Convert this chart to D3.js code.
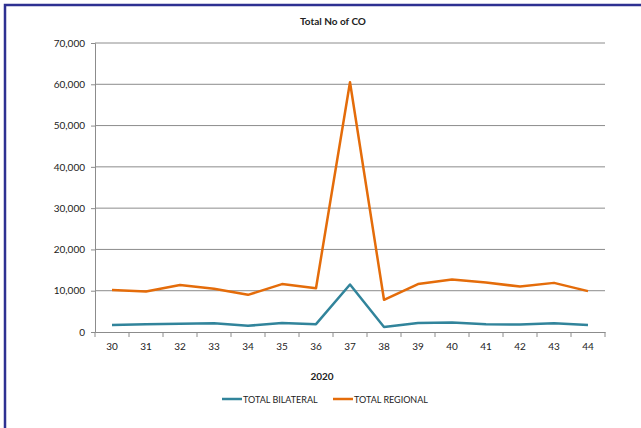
<!DOCTYPE html>
<html>
<head>
<meta charset="utf-8">
<script src="https://cdn.jsdelivr.net/npm/d3@7"></script>
<style>
  body { margin:0; background:#fff; }
  svg text { font-family: Lato, "Open Sans", sans-serif; fill:#222; }
</style>
</head>
<body>
<svg id="chart" width="641" height="428"></svg>
<script>
// weeks of 2020
const weeks = ['30','31','32','33','34','35','36','37','38','39','40','41','42','43','44'];
const bilateral = [1700,1900,2000,2100,1500,2200,1900,11500,1200,2200,2300,1900,1800,2100,1700];
const regional  = [10200,9800,11400,10500,9000,11600,10600,60500,7800,11600,12700,12000,11000,11900,9900];
const yTicks = [0,10000,20000,30000,40000,50000,60000,70000];

const series = [
    {name:'TOTAL BILATERAL', values:bilateral, color:'#31849b'},
    {name:'TOTAL REGIONAL',  values:regional,  color:'#e46c0a'}
];

const svg = d3.select('#chart');
const m = {left:95, right:36, top:43, bottom:96};
const W = 641, H = 428;

// frame
svg.append('path')
    .attr('d', `M5,${H} V5 H${W}`)
    .attr('fill','none').attr('stroke','#2e3192').attr('stroke-width',2.5);

const x = d3.scaleBand().domain(weeks).range([m.left, W-m.right]);
const y = d3.scaleLinear().domain([0,70000]).range([H-m.bottom, m.top]);

// gridlines
svg.append('g').selectAll('line')
    .data(yTicks.slice(1))
    .join('line')
    .attr('x1', m.left).attr('x2', W-m.right)
    .attr('y1', d=>y(d)).attr('y2', d=>y(d))
    .attr('stroke','#8c8c8c').attr('stroke-width',1);

// y axis
const yAxis = svg.append('g')
    .attr('transform', `translate(${m.left},0)`)
    .call(d3.axisLeft(y).tickValues(yTicks).tickFormat(d3.format(',')).tickSizeOuter(0).tickSize(4).tickPadding(6));
yAxis.selectAll('text').style('font-size','10px');

// x axis
const xAxis = svg.append('g')
    .attr('transform', `translate(0,${y(0)})`)
    .call(d3.axisBottom(x).tickSize(0).tickPadding(11));
xAxis.selectAll('text').style('font-size','10px');
// tick marks between categories
xAxis.selectAll('line.sep')
    .data(weeks.map((d,i)=>x.range()[0]+i*x.step()).concat([x.range()[1]]))
    .join('line').attr('class','sep')
    .attr('x1',d=>d).attr('x2',d=>d).attr('y1',0).attr('y2',5);
svg.selectAll('.domain, .tick line, line.sep').attr('stroke','#8c8c8c');

// lines
const line = d3.line()
    .x((d,i)=>x(weeks[i]) + x.bandwidth()/2)
    .y(d=>y(d));
svg.append('g').selectAll('path')
    .data(series)
    .join('path')
    .attr('d', d=>line(d.values))
    .attr('fill','none')
    .attr('stroke', d=>d.color)
    .attr('stroke-width',2.5)
    .attr('stroke-linejoin','round');

// title and axis title
svg.append('text').attr('x',333).attr('y',25).attr('text-anchor','middle')
    .style('font-size','10px').style('font-weight','bold').text('Total No of CO');
svg.append('text').attr('x',322).attr('y',380).attr('text-anchor','middle')
    .style('font-size','10px').style('font-weight','bold').text('2020');

// legend
const legX = [222, 333];
const leg = svg.append('g').selectAll('g')
    .data(series)
    .join('g')
    .attr('transform', (d,i)=>`translate(${legX[i]},399)`);
leg.append('line').attr('x1',0).attr('x2',20)
    .attr('stroke',d=>d.color).attr('stroke-width',2.5);
leg.append('text').attr('x',21).attr('y',3.5)
    .style('font-size','9px').text(d=>d.name);
</script>
</body>
</html>
